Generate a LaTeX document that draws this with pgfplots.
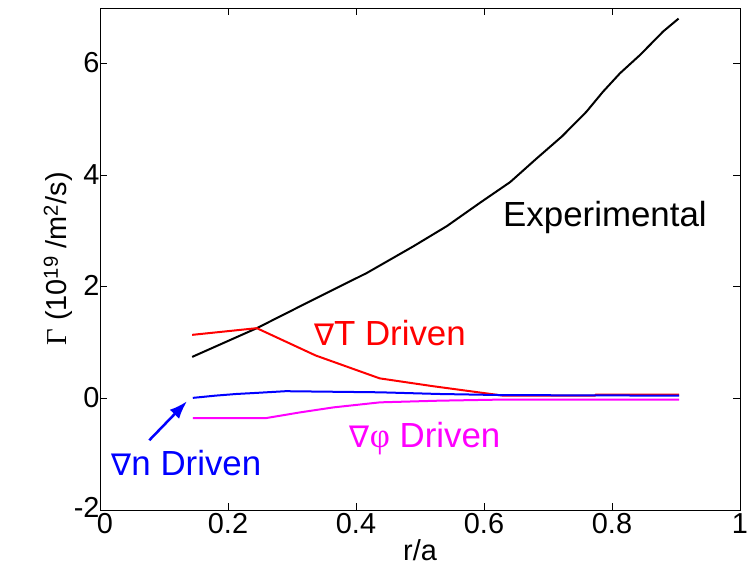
\documentclass[border=0pt]{standalone}
\usepackage{fontspec}
\setmainfont{Liberation Sans}
\newfontfamily\serifgamma{Liberation Serif}
\newfontfamily\dejavu{DejaVu Sans}
\usepackage{pgfplots}
\usetikzlibrary{arrows.meta}
\pgfplotsset{compat=1.18}
\definecolor{mag}{RGB}{255,0,255}
\definecolor{pured}{RGB}{255,0,0}
\definecolor{publue}{RGB}{0,0,255}
\newcommand{\nab}{{\dejavu\fontsize{30}{34}\selectfont ∇}}
\begin{document}
\begin{tikzpicture}
\begin{axis}[
  scale only axis,
  width=640bp, height=502bp,
  xmin=0, xmax=1, ymin=-2, ymax=7,
  xtick={0,0.2,0.4,0.6,0.8,1},
  xticklabels={\hspace*{10bp}0,0.2,0.4,0.6,0.8,1},
  ytick={-2,0,2,4,6},
  yticklabels={\raisebox{4bp}{-2},0,2,4,6},
  tick align=inside,
  major tick length=7bp,
  axis line style={line width=1bp},
  every tick/.style={black, line width=0.8bp},
  tick label style={font=\fontsize{29}{34}\selectfont},
  xticklabel style={yshift=0bp},
  yticklabel style={xshift=3bp, yshift=1bp},
  label style={font=\fontsize{29}{34}\selectfont},
  xlabel={r/a},
  ylabel={{\serifgamma Γ} (10\textsuperscript{19} /m\textsuperscript{2}/s)},
  xlabel style={yshift=1bp},
  ylabel style={yshift=-6bp},
  clip=false,
]
\addplot[black, line width=2bp] coordinates {
(0.144,0.745) (0.245,1.26) (0.333,1.77) (0.417,2.25) (0.49,2.73) (0.542,3.09)
(0.594,3.51) (0.641,3.88) (0.682,4.30) (0.722,4.70) (0.760,5.14) (0.786,5.50)
(0.8125,5.83) (0.844,6.16) (0.880,6.58) (0.904,6.81)};
\addplot[pured, line width=2bp] coordinates {
(0.144,1.14) (0.245,1.26) (0.337,0.77) (0.437,0.36) (0.52,0.22) (0.63,0.05) (0.773,0.05) (0.775,0.07) (0.905,0.07)};
\addplot[publue, line width=2bp] coordinates {
(0.145,0.01) (0.18,0.05) (0.213,0.08) (0.245,0.10) (0.29,0.13) (0.4375,0.11) (0.53,0.08) (0.63,0.06) (0.905,0.05)};
\addplot[mag, line width=2bp] coordinates {
(0.145,-0.355) (0.258,-0.355) (0.3125,-0.25) (0.365,-0.16) (0.4375,-0.07) (0.53,-0.04) (0.63,-0.02) (0.905,-0.02)};
\node[font=\fontsize{35}{40}\selectfont] at (axis cs:0.789,3.25) {Experimental};
\node[pured, font=\fontsize{35}{40}\selectfont] at (axis cs:0.453,1.17) {\nab T Driven};
\node[mag, font=\fontsize{35}{40}\selectfont] at (axis cs:0.508,-0.72) {\nab{\serifgamma φ} Driven};
\node[publue, font=\fontsize{35}{40}\selectfont] at (axis cs:0.135,-1.15) {\nab n Driven};
\draw[publue, line width=2.5bp, -{Latex[length=18bp,width=13bp]}] (axis cs:0.077,-0.75) -- (axis cs:0.136,-0.05);
\end{axis}
\pgfresetboundingbox
\path (-100bp,-66bp) rectangle (651bp,510bp);
\end{tikzpicture}
\end{document}
